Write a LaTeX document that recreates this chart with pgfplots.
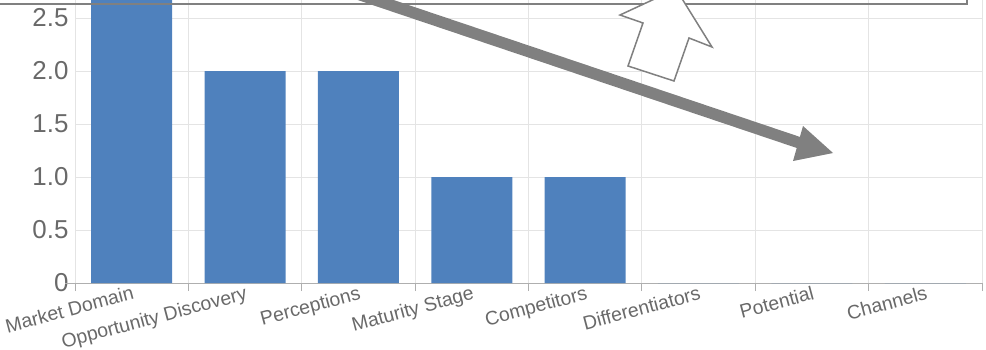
\documentclass[border=0pt]{standalone}
\usepackage{fontspec}
\setmainfont{Liberation Sans}
\usepackage{pgfplots}
\pgfplotsset{compat=1.18}
\definecolor{barblue}{RGB}{79,129,189}
\definecolor{txtgray}{RGB}{105,105,105}
\definecolor{gridgray}{RGB}{228,228,228}
\definecolor{axgray}{RGB}{175,175,175}
\definecolor{anngray}{RGB}{128,128,128}
\begin{document}
\begin{tikzpicture}
\useasboundingbox (0,0) rectangle (986bp,-350bp);
\begin{scope}
\clip (0,0) rectangle (986bp,-350bp);
\begin{axis}[
  at={(75bp,-283bp)}, anchor=south west,
  width=907bp, height=283bp, scale only axis,
  xmin=-0.5, xmax=7.5, ymin=0, ymax=2.67,
  axis x line*=bottom, axis y line*=left,
  x axis line style={axgray, line width=1bp},
  y axis line style={draw=none},
  xtick={0,1,2,3,4,5,6,7},
  xticklabels={Market Domain, Opportunity Discovery, Perceptions, Maturity Stage, Competitors, Differentiators, Potential, Channels},
  minor xtick={-0.5,0.5,1.5,2.5,3.5,4.5,5.5,6.5,7.5},
  xminorgrids,
  minor x grid style={gridgray, line width=0.8bp},
  major x tick style={draw=none},
  minor x tick style={axgray, line width=0.8bp},
  tick align=outside,
  minor tick length=8bp,
  major tick length=0pt,
  ytick={0,0.5,1,1.5,2,2.5},
  yticklabels={0,0.5,1.0,1.5,2.0,2.5},
  ymajorgrids,
  y grid style={gridgray, line width=0.8bp},
  ytick style={draw=none},
  xticklabel style={rotate=15, anchor=north east, font=\fontsize{19.5}{22}\selectfont, text=txtgray, inner sep=1bp, yshift=-1bp},
  yticklabel style={font=\fontsize{26}{30}\selectfont, text=txtgray, anchor=east, xshift=-3bp},
  clip=true,
]
\addplot[ybar, bar width=0.714, fill=barblue, draw=none] coordinates {
  (0,3) (1,2) (2,2) (3,1) (4,1) (5,0) (6,0) (7,0)
};
\end{axis}
\draw[axgray, line width=1bp] (65bp,-283bp) -- (75bp,-283bp);
\draw[anngray, line width=1.5bp] (-5bp,-4bp) -- (967bp,-4bp) -- (967bp,5bp);
\draw[anngray, line width=11.5bp] (340bp,12bp) -- (800bp,-143bp);
\fill[anngray] (833bp,-153bp) -- (803bp,-126bp) -- (793bp,-161bp) -- cycle;
\draw[anngray, line width=1.5bp, fill=white, line join=miter] (676bp,11bp) -- (712bp,-47bp) -- (689bp,-38bp) -- (674bp,-81bp) -- (628bp,-66bp) -- (643bp,-23bp) -- (620bp,-15bp) -- cycle;
\end{scope}
\end{tikzpicture}
\end{document}
